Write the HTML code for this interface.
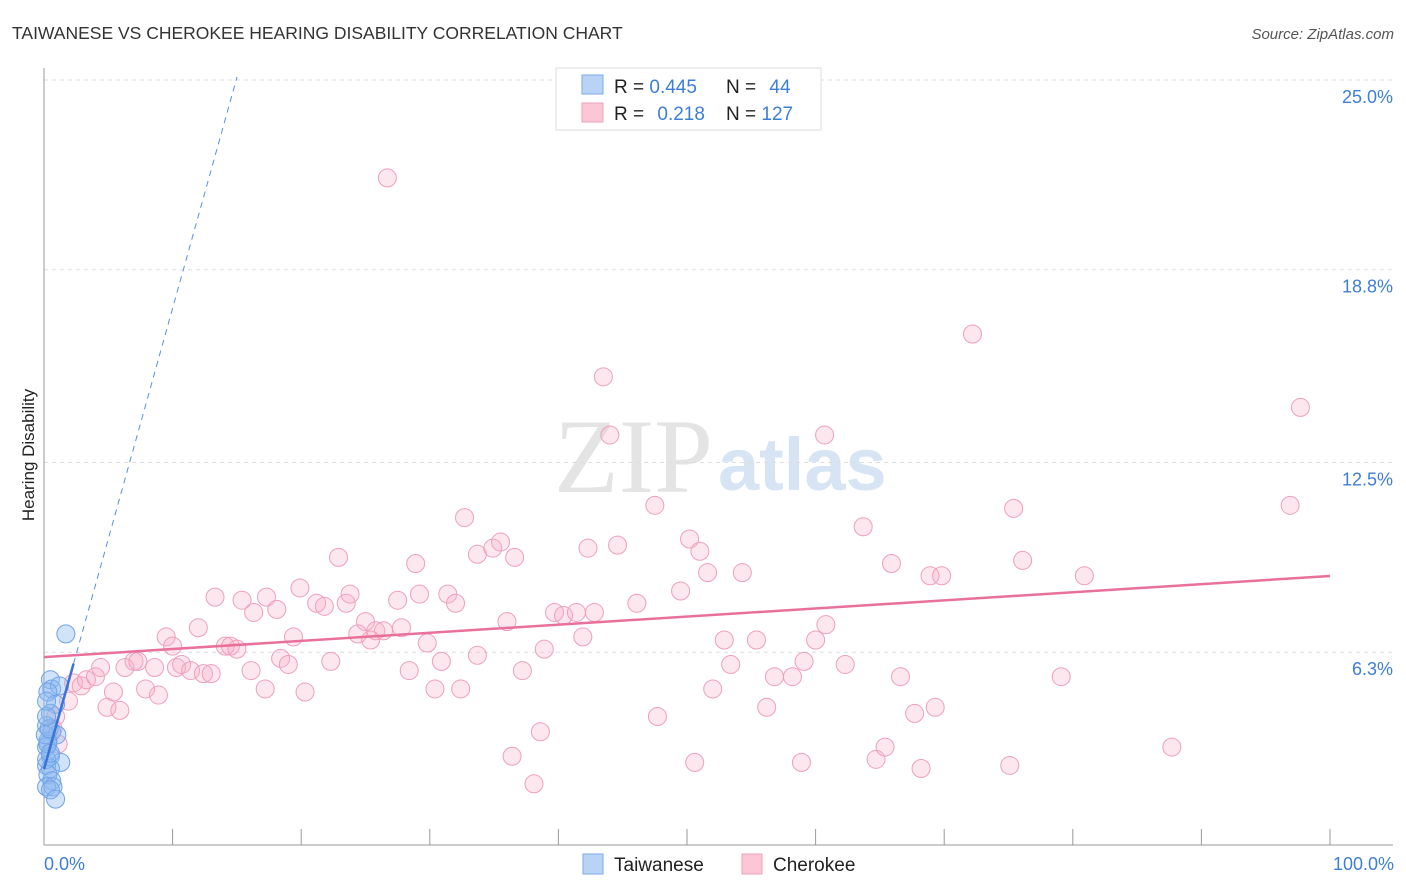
<!DOCTYPE html>
<html><head><meta charset="utf-8"><style>
body{margin:0;background:#fff;font-family:"Liberation Sans",sans-serif;}
svg{display:block}
</style></head><body>
<svg id="chart" width="1406" height="892" xmlns="http://www.w3.org/2000/svg">
<text x="12" y="39" font-size="17.5" fill="#333">TAIWANESE VS CHEROKEE HEARING DISABILITY CORRELATION CHART</text>
<text x="1394" y="39" font-size="15" fill="#555" font-style="italic" text-anchor="end">Source: ZipAtlas.com</text>
<text x="713" y="492" font-size="106" fill="#e4e4e4" text-anchor="end" font-family="Liberation Serif,serif">ZIP</text>
<text x="718" y="490" font-size="74" fill="#d6e4f4" font-weight="bold">atlas</text>
<text transform="translate(34,455) rotate(-90)" font-size="17" fill="#222" text-anchor="middle">Hearing Disability</text>
<g id="grid"></g>
<g id="axes"></g>
<g id="pts"></g>
<g id="lines"></g>
<g>
<rect x="556" y="68" width="265" height="62" fill="#fff" stroke="#ddd"/>
<rect x="582" y="75" width="21" height="19" fill="#b9d3f5" stroke="#7aaae8"/>
<rect x="582" y="103" width="21" height="19" fill="#fbc6d6" stroke="#f0a0b8"/>
<text x="614" y="93" font-size="19" fill="#222">R = <tspan fill="#3d7fd4">0.445</tspan></text>
<text x="726" y="93" font-size="19" fill="#222">N = <tspan fill="#3d7fd4" dx="8">44</tspan></text>
<text x="614" y="120" font-size="19" fill="#222">R = <tspan fill="#3d7fd4" dx="8">0.218</tspan></text>
<text x="726" y="120" font-size="19" fill="#222">N = <tspan fill="#3d7fd4">127</tspan></text>
</g>
<g>
<rect x="583" y="854" width="20" height="20" fill="#b9d3f5" stroke="#7aaae8"/>
<text x="614" y="871" font-size="19" fill="#222">Taiwanese</text>
<rect x="742" y="854" width="20" height="20" fill="#fbc6d6" stroke="#f0a0b8"/>
<text x="773" y="871" font-size="19" fill="#222">Cherokee</text>
</g>
<text x="44" y="870" font-size="18" fill="#3d7fd4">0.0%</text>
<text x="1394" y="870" font-size="18" fill="#3d7fd4" text-anchor="end">100.0%</text>
</svg>
<script>
const yTicks=[25.0,18.8,12.5,6.3];
const yTickLabels=["25.0%","18.8%","12.5%","6.3%"];
const xTicks=[10,20,30,40,50,60,70,80,90,100];
const taiX=[1.7,0.5,0.6,1.2,0.3,0.9,0.5,0.2,0.6,1.0,0.3,0.2,0.5,1.3,0.2,0.5,0.3,0.6,0.2,0.7,0.5,0.9,0.2,0.3,0.5,0.1,0.4,0.2,0.2];
const taiY=[6.9,5.4,5.1,5.2,5.0,4.6,4.3,3.9,3.7,3.6,3.4,3.2,2.9,2.7,2.6,2.5,2.3,2.1,1.9,1.9,1.8,1.5,2.8,3.3,3.0,3.6,3.8,4.2,4.7];
const cheX=[26.7,72.2,43.5,97.7,44.0,60.7,32.7,47.5,63.7,75.4,96.9,22.9,28.9,33.7,34.9,35.5,36.6,42.3,44.6,50.2,51.0,51.6,54.3,65.9,68.9,69.8,76.1,80.9,13.3,15.4,16.3,17.3,18.1,19.9,21.2,21.8,23.5,23.8,27.5,29.2,31.4,32.0,39.7,40.4,41.4,42.8,46.1,49.5,36.0,25.0,25.8,24.4,26.4,27.8,25.4,29.8,9.5,12.0,14.1,14.5,15.0,19.4,41.9,38.9,52.9,55.4,60.0,60.8,10.0,4.4,6.3,7.0,7.3,8.6,10.3,10.7,11.4,12.4,13.0,16.1,18.4,19.0,22.3,28.4,30.9,33.7,37.2,53.4,59.1,62.3,56.8,58.2,66.6,79.1,2.3,2.9,3.3,4.0,5.4,7.9,8.9,17.2,20.3,30.4,32.4,52.0,1.9,4.9,5.9,47.7,56.2,67.7,69.3,38.6,36.4,38.1,50.6,58.9,64.7,65.4,68.2,75.1,87.7,0.9,1.1,0.7];
const cheY=[21.8,16.7,15.3,14.3,13.4,13.4,10.7,11.1,10.4,11.0,11.1,9.4,9.2,9.5,9.7,9.9,9.4,9.7,9.8,10.0,9.6,8.9,8.9,9.2,8.8,8.8,9.3,8.8,8.1,8.0,7.6,8.1,7.7,8.4,7.9,7.8,7.9,8.2,8.0,8.2,8.2,7.9,7.6,7.5,7.6,7.6,7.9,8.3,7.3,7.3,7.0,6.9,7.0,7.1,6.7,6.6,6.8,7.1,6.5,6.5,6.4,6.8,6.8,6.4,6.7,6.7,6.7,7.2,6.5,5.8,5.8,6.0,6.0,5.8,5.8,5.9,5.7,5.6,5.6,5.7,6.1,5.9,6.0,5.7,6.0,6.2,5.7,5.9,6.0,5.9,5.5,5.5,5.5,5.5,5.3,5.2,5.4,5.5,5.0,5.1,4.9,5.1,5.0,5.1,5.1,5.1,4.7,4.5,4.4,4.2,4.5,4.3,4.5,3.7,2.9,2.0,2.7,2.7,2.8,3.2,2.5,2.6,3.2,4.2,3.3,3.8];
const cheTrend=[6.14,8.79];
const taiTrend=[2.48,1.5];
const NS="http://www.w3.org/2000/svg";
const X=v=>44+v*12.86, Y=v=>845-v*30.6;
function mk(t,a,p){const e=document.createElementNS(NS,t);for(const k in a)e.setAttribute(k,a[k]);p.appendChild(e);return e;}
const grid=document.getElementById('grid'),axes=document.getElementById('axes'),pts=document.getElementById('pts'),lines=document.getElementById('lines');
yTicks.forEach((v,i)=>{
 const l=mk('line',{x1:44,x2:1393,y1:Y(v),y2:Y(v),stroke:'#ddd','stroke-dasharray':'4,4'},grid);
 
 
 const t=mk('text',{x:1393,y:Y(v)+23,'font-size':18,fill:'#3d7fd4','text-anchor':'end'},grid);
 t.textContent=yTickLabels[i];
 
 
});
let a=mk('line',{x1:44,x2:44,y1:68,y2:845,stroke:'#999'},axes);


a=mk('line',{x1:44,x2:1393,y1:845,y2:845,stroke:'#999'},axes);


xTicks.forEach(v=>{
 const t=mk('line',{x1:X(v),x2:X(v),y1:829,y2:845,stroke:'#999'},axes);
 
 
});
cheX.forEach((v,i)=>{
 const c=mk('circle',{cx:X(v),cy:Y(cheY[i]),r:9,fill:'rgba(248,175,198,0.3)',stroke:'#eea0b8','stroke-width':1},pts);
 
 
});
taiX.forEach((v,i)=>{
 const c=mk('circle',{cx:X(v),cy:Y(taiY[i]),r:9,fill:'rgba(140,185,240,0.4)',stroke:'#6fa3e6','stroke-width':1},pts);
 
 
});
let ln=mk('line',{x1:X(0),y1:Y(cheTrend[0]),x2:X(100),y2:Y(cheTrend[1]),stroke:'#e8709a','stroke-width':2.5},lines);


const tf=x=>taiTrend[0]+taiTrend[1]*x;
ln=mk('line',{x1:X(0),y1:Y(tf(0)),x2:X(2.3),y2:Y(tf(2.3)),stroke:'#3a72d8','stroke-width':2.5},lines);


const xe=(25-taiTrend[0])/taiTrend[1];
ln=mk('line',{x1:X(2.3),y1:Y(tf(2.3)),x2:X(xe),y2:Y(25.1),stroke:'#5a8ee0','stroke-width':1,'stroke-dasharray':'6,5'},lines);


</script>
</body></html>
